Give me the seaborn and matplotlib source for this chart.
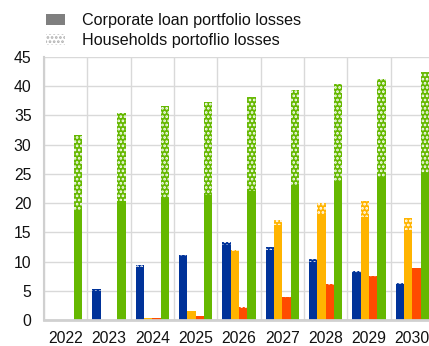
import pandas as pd
import seaborn as sns
import matplotlib.pyplot as plt
from matplotlib.patches import Patch

years = ["2022", "2023", "2024", "2025", "2026", "2027", "2028", "2029", "2030"]
series = ["Scenario 1", "Scenario 2", "Scenario 3", "Scenario 4"]
colors = ["#003299", "#FFB400", "#FF4B00", "#65B800"]

# Losses split into corporate loan portfolio (solid) and households (dotted)
corporate_s1 = [0.0, 5.0, 9.0, 10.7, 12.8, 12.0, 10.0, 8.0, 6.1]
households_s1 = [0.0, 0.3, 0.4, 0.4, 0.5, 0.5, 0.5, 0.4, 0.3]
corporate_s2 = [0.0, 0.0, 0.3, 1.5, 11.8, 16.3, 18.0, 17.7, 15.4]
households_s2 = [0.0, 0.0, 0.0, 0.0, 0.1, 0.8, 2.0, 2.6, 2.1]
corporate_s3 = [0.0, 0.0, 0.3, 0.7, 2.1, 3.8, 5.9, 7.3, 8.7]
households_s3 = [0.0, 0.0, 0.0, 0.0, 0.1, 0.1, 0.2, 0.2, 0.2]
corporate_s4 = [18.8, 20.3, 20.8, 21.4, 22.1, 22.9, 23.7, 24.5, 25.2]
households_s4 = [12.9, 15.2, 15.9, 15.9, 16.1, 16.4, 16.7, 16.8, 17.2]

corporate = [corporate_s1, corporate_s2, corporate_s3, corporate_s4]
households = [households_s1, households_s2, households_s3, households_s4]

rows = []
for name, corp, hh in zip(series, corporate, households):
    for yr, c, h in zip(years, corp, hh):
        rows.append({"year": yr, "series": name, "corporate": c,
                     "households": h, "total": c + h})
df = pd.DataFrame(rows)

sns.set_theme(style="white")
plt.rcParams["font.family"] = ["Liberation Sans", "DejaVu Sans"]
plt.rcParams["hatch.linewidth"] = 1.3

fig = plt.figure(figsize=(4.29, 3.46), dpi=100)
ax = fig.add_axes([44 / 429, 26 / 346, 390 / 429, 263 / 346])

# Full stack (corporate + households) drawn dotted, corporate part on top solid
sns.barplot(data=df, x="year", y="total", hue="series", palette=colors,
            width=0.77, saturation=1, errorbar=None, legend=False, ax=ax)
n_total = len(ax.patches)
for p in ax.patches:
    p.set_hatch("....")
    p.set_edgecolor("white")
    p.set_linewidth(0)

sns.barplot(data=df, x="year", y="corporate", hue="series", palette=colors,
            width=0.77, saturation=1, errorbar=None, legend=False, ax=ax)
for p in ax.patches[n_total:]:
    p.set_linewidth(0)

ax.set_xlim(-0.5, len(years) - 0.5)
ax.set_ylim(0, 45)
ax.set_yticks(range(0, 46, 5))
ax.set_xticks([i + 0.5 for i in range(-1, len(years))], minor=True)
ax.set_axisbelow(True)
ax.yaxis.grid(True, color="#d9d9d9", lw=1)
ax.xaxis.grid(True, which="minor", color="#d9d9d9", lw=1)
ax.set_xlabel("")
ax.set_ylabel("")
ax.tick_params(axis="both", which="both", length=0, labelsize=11.3,
               colors="#111111")
ax.tick_params(axis="y", pad=9)
ax.tick_params(axis="x", pad=8)
for side in ("top", "right"):
    ax.spines[side].set_visible(False)
ax.spines["left"].set_color("#d0d0d0")
ax.spines["left"].set_linewidth(1.5)
ax.spines["bottom"].set_color("#d0d0d0")
ax.spines["bottom"].set_linewidth(2)

handles = [
    Patch(facecolor="#7f7f7f", edgecolor="#7f7f7f", linewidth=0),
    Patch(facecolor="white", edgecolor="#b0b0b0", linewidth=0, hatch="...."),
]
labels = ["Corporate loan portfolio losses", "Households portoflio losses"]
fig.legend(handles, labels, loc="upper left",
           bbox_to_anchor=(40 / 429, 1 - 7 / 346), frameon=False,
           fontsize=11.6, handlelength=1.15, handleheight=0.65,
           handletextpad=1.05, labelspacing=0.3, borderaxespad=0,
           labelcolor="#111111")

fig.savefig("out.png", dpi=100)
